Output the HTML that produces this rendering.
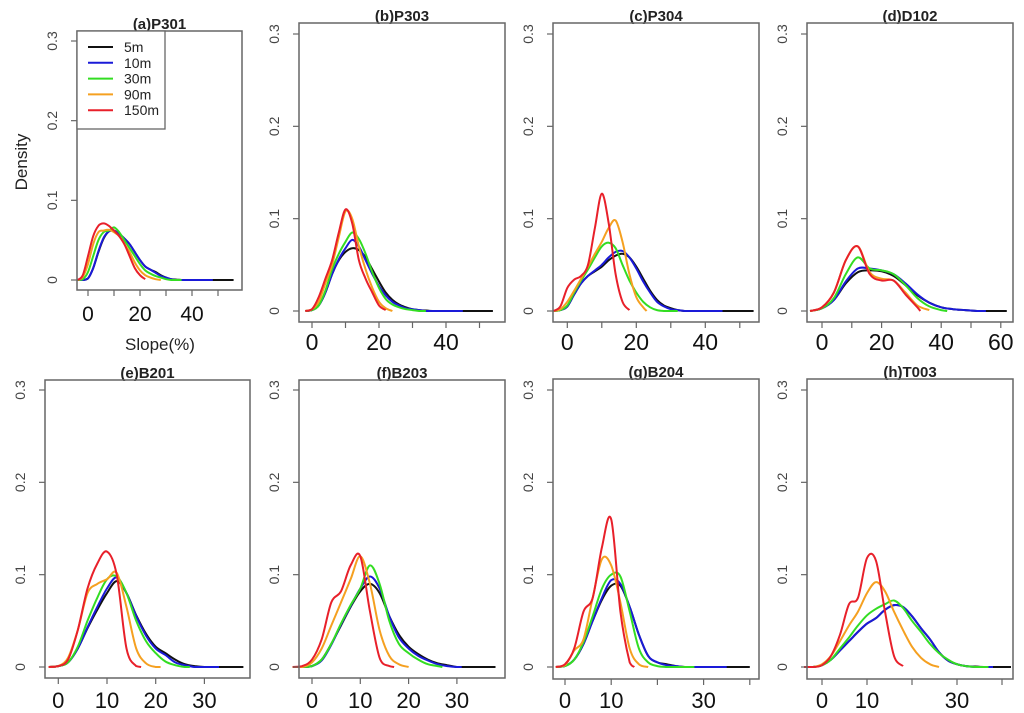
<!DOCTYPE html>
<html><head><meta charset="utf-8"><style>
html,body{margin:0;padding:0;background:#fff;}
svg{display:block;font-family:"Liberation Sans",sans-serif;}
</style></head><body>
<svg id="fig" width="1024" height="713" viewBox="0 0 1024 713"></svg>
<script>
const seriesNames = ["5m","10m","30m","90m","150m"];
const seriesColors = ["#111","#1a1ad8","#33dd22","#f5a020","#e8202a"];
const panelTitles = ["(a)P301","(b)P303","(c)P304","(d)D102","(e)B201","(f)B203","(g)B204","(h)T003"];
const yTickValues = [0,0.1,0.2,0.3];
const yTickLabels = ["0","0.1","0.2","0.3"];
const gridStart = [-4,-2,-4,-4,-2,-4,-2,-4];
const gridStep = [2,2,2,4,2,2,2,2];
const seriesEnds = [[56,48,36,28,22],[54,45,34,24,22],[54,45,32,23,18],[62,55,42,36,33],[38,33,27,21,17],[38,31,27,20,17],[40,35,28,18,15],[42,38,37,26,18]];
const dA = [
[0,0,0.002,0.015,0.035,0.052,0.061,0.062,0.058,0.052,0.045,0.035,0.025,0.017,0.013,0.010,0.006,0.003,0.001,0.0005,0],
[0,0,0.002,0.015,0.036,0.053,0.061,0.062,0.058,0.052,0.045,0.035,0.025,0.017,0.013,0.009,0.005,0.003,0.001,0],
[0,0.001,0.01,0.03,0.05,0.06,0.062,0.066,0.06,0.05,0.04,0.03,0.02,0.012,0.008,0.005,0.003,0.001,0],
[0,0.004,0.02,0.045,0.06,0.062,0.063,0.06,0.055,0.045,0.035,0.022,0.012,0.006,0.003,0.001,0],
[0,0.006,0.03,0.055,0.068,0.071,0.068,0.062,0.055,0.045,0.03,0.015,0.006,0.001,0]];
const dB = [
[0,0.001,0.006,0.02,0.04,0.055,0.064,0.068,0.066,0.058,0.045,0.032,0.02,0.012,0.007,0.004,0.002,0.001,0.0005,0],
[0,0.001,0.006,0.02,0.04,0.056,0.068,0.077,0.07,0.055,0.04,0.027,0.017,0.01,0.006,0.003,0.002,0.001,0],
[0,0.001,0.006,0.022,0.045,0.062,0.075,0.085,0.078,0.062,0.042,0.025,0.013,0.007,0.004,0.002,0.001,0],
[0,0.002,0.01,0.03,0.05,0.08,0.108,0.1,0.07,0.045,0.025,0.01,0.003,0],
[0,0.002,0.015,0.035,0.055,0.085,0.11,0.095,0.055,0.035,0.02,0.006,0.001,0]];
const dC = [
[0,0.001,0.005,0.018,0.03,0.038,0.043,0.048,0.055,0.06,0.062,0.058,0.048,0.035,0.022,0.012,0.006,0.003,0.001,0],
[0,0.001,0.005,0.018,0.03,0.038,0.044,0.05,0.058,0.064,0.065,0.058,0.046,0.032,0.02,0.01,0.005,0.002,0.001,0],
[0,0.001,0.006,0.02,0.033,0.045,0.058,0.07,0.074,0.068,0.05,0.033,0.02,0.01,0.004,0.001,0],
[0,0.002,0.01,0.022,0.035,0.048,0.062,0.075,0.09,0.098,0.075,0.04,0.015,0.004,0],
[0,0.005,0.025,0.034,0.038,0.05,0.09,0.127,0.095,0.04,0.01,0.001,0]];
const dD = [
[0,0.003,0.012,0.03,0.042,0.044,0.043,0.038,0.028,0.017,0.009,0.004,0.002,0.001,0],
[0,0.003,0.012,0.032,0.046,0.046,0.044,0.04,0.03,0.018,0.009,0.004,0.002,0.001,0],
[0,0.003,0.014,0.04,0.058,0.046,0.044,0.04,0.028,0.014,0.005,0.001,0],
[0,0.004,0.02,0.055,0.07,0.042,0.035,0.033,0.02,0.006,0.001,0],
[0,0.004,0.02,0.055,0.07,0.04,0.033,0.033,0.018,0.004,0]];
const dE = [
[0,0.001,0.005,0.02,0.042,0.062,0.08,0.093,0.08,0.056,0.036,0.022,0.015,0.008,0.003,0.001,0],
[0,0.001,0.005,0.02,0.043,0.065,0.085,0.097,0.08,0.055,0.034,0.02,0.013,0.005,0.002,0],
[0,0.001,0.005,0.022,0.05,0.075,0.095,0.098,0.08,0.05,0.028,0.015,0.006,0.002,0],
[0,0.001,0.01,0.04,0.08,0.09,0.095,0.102,0.065,0.02,0.004,0],
[0,0.001,0.008,0.04,0.085,0.112,0.125,0.1,0.02,0.001,0]];
const dF = [
[0,0,0.001,0.008,0.025,0.045,0.065,0.082,0.09,0.08,0.055,0.035,0.022,0.014,0.008,0.004,0.002,0],
[0,0,0.001,0.007,0.024,0.046,0.066,0.085,0.098,0.085,0.055,0.032,0.02,0.012,0.007,0.003,0.001,0],
[0,0,0.001,0.008,0.025,0.047,0.067,0.085,0.11,0.09,0.05,0.025,0.015,0.008,0.003,0.001,0],
[0,0,0.005,0.02,0.045,0.07,0.095,0.12,0.09,0.04,0.012,0.003,0],
[0,0.001,0.008,0.03,0.07,0.082,0.11,0.12,0.06,0.01,0.001,0]];
const dG = [
[0,0.001,0.008,0.025,0.05,0.073,0.088,0.088,0.065,0.035,0.012,0.005,0.003,0.001,0],
[0,0.001,0.008,0.025,0.05,0.075,0.094,0.09,0.065,0.035,0.012,0.005,0.002,0.001,0],
[0,0.001,0.008,0.027,0.055,0.085,0.1,0.098,0.06,0.02,0.005,0.001,0],
[0,0.002,0.018,0.03,0.075,0.117,0.11,0.07,0.02,0.003,0],
[0,0.003,0.02,0.06,0.075,0.13,0.16,0.06,0.005,0]];
const dH = [
[0,0,0.002,0.008,0.018,0.028,0.038,0.047,0.053,0.062,0.067,0.065,0.055,0.042,0.03,0.016,0.007,0.003,0.001,0.0005,0],
[0,0,0.002,0.008,0.018,0.028,0.038,0.047,0.053,0.062,0.067,0.065,0.055,0.042,0.03,0.016,0.007,0.003,0.001,0],
[0,0,0.002,0.008,0.02,0.032,0.045,0.056,0.063,0.068,0.072,0.064,0.05,0.038,0.025,0.015,0.008,0.003,0.001,0],
[0,0,0.003,0.012,0.028,0.045,0.06,0.08,0.092,0.082,0.06,0.04,0.022,0.01,0.003,0],
[0,0,0.002,0.012,0.035,0.068,0.075,0.118,0.115,0.06,0.012,0.001,0]];
const panelData = [dA,dB,dC,dD,dE,dF,dG,dH];
const xTickValues = [[0,10,20,30,40,50],[0,10,20,30,40,50],[0,10,20,30,40,50],[0,10,20,30,40,50,60],[0,10,20,30],[0,10,20,30],[0,10,20,30,40],[0,10,20,30,40]];
const xTickLabels = [["0","","20","","40",""],["0","","20","","40",""],["0","","20","","40",""],["0","","20","","40","","60"],["0","10","20","30"],["0","10","20","30"],["0","10","","30",""],["0","10","","30",""]];

const layout = [
 {box:[77,31,242,290],x0:88,xs:2.6,y0:280,y3:41,fs:21,ly:321},
 {box:[299,23,505,322],x0:312,xs:3.35,y0:311,y3:34,fs:23,ly:350},
 {box:[553,23,759,322],x0:567.3,xs:3.45,y0:311,y3:34,fs:23,ly:350},
 {box:[807,23,1013,322],x0:822,xs:2.98,y0:311,y3:34,fs:23,ly:350},
 {box:[45,380,250,678],x0:58.3,xs:4.87,y0:667,y3:390,fs:22,ly:708},
 {box:[299,380,505,678],x0:312,xs:4.83,y0:667,y3:390,fs:22,ly:708},
 {box:[553,379,759,679],x0:565,xs:4.62,y0:667,y3:390,fs:22,ly:708},
 {box:[807,379,1013,679],x0:822,xs:4.5,y0:667,y3:390,fs:22,ly:708}];

const NS="http://www.w3.org/2000/svg";
const svg=document.getElementById('fig');
function mk(tag,attrs,parent,text){const e=document.createElementNS(NS,tag);for(const k in attrs)e.setAttribute(k,attrs[k]);if(text!==undefined)e.textContent=text;(parent||svg).appendChild(e);return e;}

function smoothPath(pts,base){
  let d="M"+pts[0][0].toFixed(1)+","+pts[0][1].toFixed(1);
  for(let i=0;i<pts.length-1;i++){
    const p0=pts[Math.max(0,i-1)],p1=pts[i],p2=pts[i+1],p3=pts[Math.min(pts.length-1,i+2)];
    const c1=[p1[0]+(p2[0]-p0[0])/6,Math.min(base,p1[1]+(p2[1]-p0[1])/6)];
    const c2=[p2[0]-(p3[0]-p1[0])/6,Math.min(base,p2[1]-(p3[1]-p1[1])/6)];
    d+="C"+c1[0].toFixed(1)+","+c1[1].toFixed(1)+" "+c2[0].toFixed(1)+","+c2[1].toFixed(1)+" "+p2[0].toFixed(1)+","+p2[1].toFixed(1);
  }
  return d;
}

panelTitles.forEach((title,p)=>{
  const L=layout[p];
  const g=mk('g',{});
  
  
  const xS=v=>L.x0+v*L.xs;
  const yS=v=>L.y0-(L.y0-L.y3)*v/0.3;
  const t=mk('text',{x:(L.box[0]+L.box[2])/2,y:L.box[1]-2,'text-anchor':'middle','font-size':15,'font-weight':'bold',fill:'#222'},g,title);
  
  
  const data=panelData[p];
  data.forEach((vals,s)=>{
    const end=seriesEnds[p][s];
    const pts=[];
    for(let x=gridStart[p],i=0;x<=end+1e-9;x+=gridStep[p],i++){
      pts.push([xS(x),yS(i<vals.length?vals[i]:0)]);
    }
    if(pts.length && (end-gridStart[p])%gridStep[p]!==0) pts.push([xS(end),yS(0)]);
    const path=mk('path',{d:smoothPath(pts,L.y0),fill:'none',stroke:seriesColors[s],'stroke-width':2,'stroke-linejoin':'round'},g);
    
    
  });
  const box=mk('rect',{x:L.box[0],y:L.box[1],width:L.box[2]-L.box[0],height:L.box[3]-L.box[1],fill:'none',stroke:'#666','stroke-width':1.5},g);
  
  
  yTickValues.forEach((v,i)=>{
    const y=yS(v);
    mk('line',{x1:L.box[0]-6,y1:y,x2:L.box[0],y2:y,stroke:'#666','stroke-width':1.2},g);
    const lx=L.box[0]-20;
    const lab=mk('text',{x:lx,y:y,transform:'rotate(-90 '+lx+' '+y+')','text-anchor':'middle','font-size':14,fill:'#444'},g,yTickLabels[i]);
    
    
  });
  xTickValues[p].forEach((v,i)=>{
    const x=xS(v);
    mk('line',{x1:x,y1:L.box[3],x2:x,y2:L.box[3]+6,stroke:'#666','stroke-width':1.2},g);
    if(xTickLabels[p][i]){
      const lab=mk('text',{x:x,y:L.ly,'text-anchor':'middle','font-size':L.fs,fill:'#111'},g,xTickLabels[p][i]);
      
      
    }
  });
});

const yt=mk('text',{x:0,y:0,transform:'translate(27,162) rotate(-90)','text-anchor':'middle','font-size':17,fill:'#222'},svg,'Density');


const xt=mk('text',{x:160,y:350,'text-anchor':'middle','font-size':17,fill:'#222'},svg,'Slope(%)');



const lg=mk('g',{});


mk('rect',{x:77,y:31,width:88,height:98,fill:'#fff',stroke:'#666','stroke-width':1.3},lg);
seriesNames.forEach((n,i)=>{
  const y=47+i*15.8;
  const e=mk('g',{},lg);
  
  
  mk('line',{x1:88,y1:y,x2:113,y2:y,stroke:seriesColors[i],'stroke-width':2},e);
  mk('text',{x:124,y:y+5,'font-size':14,fill:'#222'},e,n);
});
</script>
</body></html>
